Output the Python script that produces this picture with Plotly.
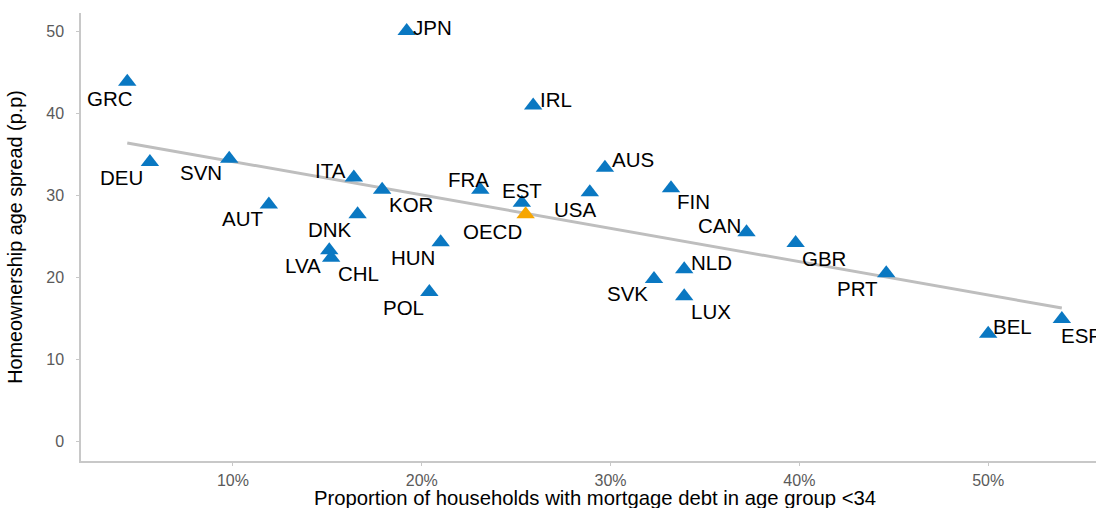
import numpy as np
import plotly.graph_objects as go

# Country codes, share of households under 34 with mortgage debt (%),
# and homeownership age spread (percentage points)
countries = ["GRC", "DEU", "SVN", "AUT", "ITA", "KOR", "DNK", "LVA", "CHL",
             "JPN", "HUN", "POL", "FRA", "EST", "IRL", "USA", "AUS", "FIN",
             "SVK", "NLD", "LUX", "CAN", "GBR", "PRT", "BEL", "ESP"]
mortgage_share = [4.4, 5.6, 9.8, 11.9, 16.4, 17.9, 16.6, 15.1, 15.2,
                  19.2, 21.0, 20.4, 23.1, 25.3, 25.9, 28.9, 29.7, 33.2,
                  32.3, 33.9, 33.9, 37.2, 39.8, 44.6, 50.0, 53.9]
age_spread = [43.9, 34.1, 34.5, 28.9, 32.2, 30.7, 27.7, 23.3, 22.4,
              50.1, 24.3, 18.2, 30.7, 29.1, 41.0, 30.4, 33.4, 30.9,
              19.8, 21.0, 17.7, 25.5, 24.2, 20.5, 13.1, 14.9]

oecd_label = "OECD"
oecd_share = 25.5
oecd_spread = 27.7

x_ticks = [10, 20, 30, 40, 50]
x_tick_labels = ["10%", "20%", "30%", "40%", "50%"]
y_ticks = [0, 10, 20, 30, 40, 50]

# Pixel offsets for the country labels (dx to the right, dy downwards)
label_offsets = {
    "GRC": (-17, 17), "DEU": (-28, 16), "SVN": (-28, 14), "AUT": (-26, 14),
    "ITA": (-23, -7), "KOR": (29, 15), "DNK": (-28, 15), "LVA": (-26, 15),
    "CHL": (27, 16), "JPN": (26, -4), "HUN": (-28, 15), "POL": (-26, 15),
    "FRA": (-12, -10), "EST": (0, -12), "IRL": (23, -6), "USA": (-15, 17),
    "AUS": (28, -8), "FIN": (22, 13), "SVK": (-27, 15), "NLD": (27, -7),
    "LUX": (27, 15), "CAN": (-27, -7), "GBR": (28, 16), "PRT": (-29, 15),
    "BEL": (24, -7), "ESP": (20, 16), "OECD": (-33, 17),
}

BLUE = "#0A78C2"
ORANGE = "#F7A600"
LINE_GREY = "#BEBEBE"
AXIS_GREY = "#C8C8C8"
FONT = "Liberation Sans, Arial, sans-serif"

# Least-squares trend across the countries
slope, intercept = np.polyfit(mortgage_share, age_spread, 1)
x_fit = np.array([min(mortgage_share), max(mortgage_share)])
y_fit = intercept + slope * x_fit

fig = go.Figure()

fig.add_trace(go.Scatter(
    x=x_fit, y=y_fit, mode="lines",
    line=dict(color=LINE_GREY, width=3),
    hoverinfo="skip", showlegend=False,
))

fig.add_trace(go.Scatter(
    x=mortgage_share, y=age_spread, mode="markers",
    marker=dict(symbol="triangle-up", size=16, color=BLUE),
    text=countries, showlegend=False, cliponaxis=False,
))

fig.add_trace(go.Scatter(
    x=[oecd_share], y=[oecd_spread], mode="markers",
    marker=dict(symbol="triangle-up", size=16, color=ORANGE),
    text=[oecd_label], showlegend=False, cliponaxis=False,
))

all_labels = countries + [oecd_label]
all_x = mortgage_share + [oecd_share]
all_y = age_spread + [oecd_spread]
for name, xv, yv in zip(all_labels, all_x, all_y):
    dx, dy = label_offsets[name]
    fig.add_annotation(
        x=xv, y=yv, text=name, showarrow=False,
        xshift=dx, yshift=-dy,
        font=dict(family=FONT, size=20.5, color="#000000"),
    )

x_lo, x_hi_full = 1.95, 56.4

# x-axis title centred on the full panel width
fig.add_annotation(
    x=(x_lo + x_hi_full) / 2, y=0, xref="x", yref="paper",
    yshift=-37, yanchor="middle", showarrow=False,
    text="Proportion of households with mortgage debt in age group <34",
    font=dict(family=FONT, size=20.3, color="#000000"),
)

fig.update_xaxes(
    range=[x_lo, 55.71],
    tickmode="array", tickvals=x_ticks, ticktext=x_tick_labels,
    showgrid=False, zeroline=False,
    showline=True, linecolor=AXIS_GREY, linewidth=1.5,
    ticks="outside", ticklen=3, tickcolor=AXIS_GREY,
    ticklabelstandoff=1,
    tickfont=dict(family=FONT, size=16, color="#5A5A5A"),
)
fig.update_yaxes(
    range=[-2.44, 52.3],
    tickmode="array", tickvals=y_ticks,
    showgrid=False, zeroline=False,
    showline=True, linecolor=AXIS_GREY, linewidth=1.5,
    ticks="outside", ticklen=3, tickcolor=AXIS_GREY,
    ticklabelstandoff=9,
    tickfont=dict(family=FONT, size=16, color="#5A5A5A"),
    title=dict(text="Homeownership age spread (p.p)",
               font=dict(family=FONT, size=19.8, color="#000000"),
               standoff=18),
)

fig.update_layout(
    width=1096, height=508,
    margin=dict(l=81, r=0, t=13, b=47),
    plot_bgcolor="white", paper_bgcolor="white",
    showlegend=False,
)

fig.write_html("out.html")
